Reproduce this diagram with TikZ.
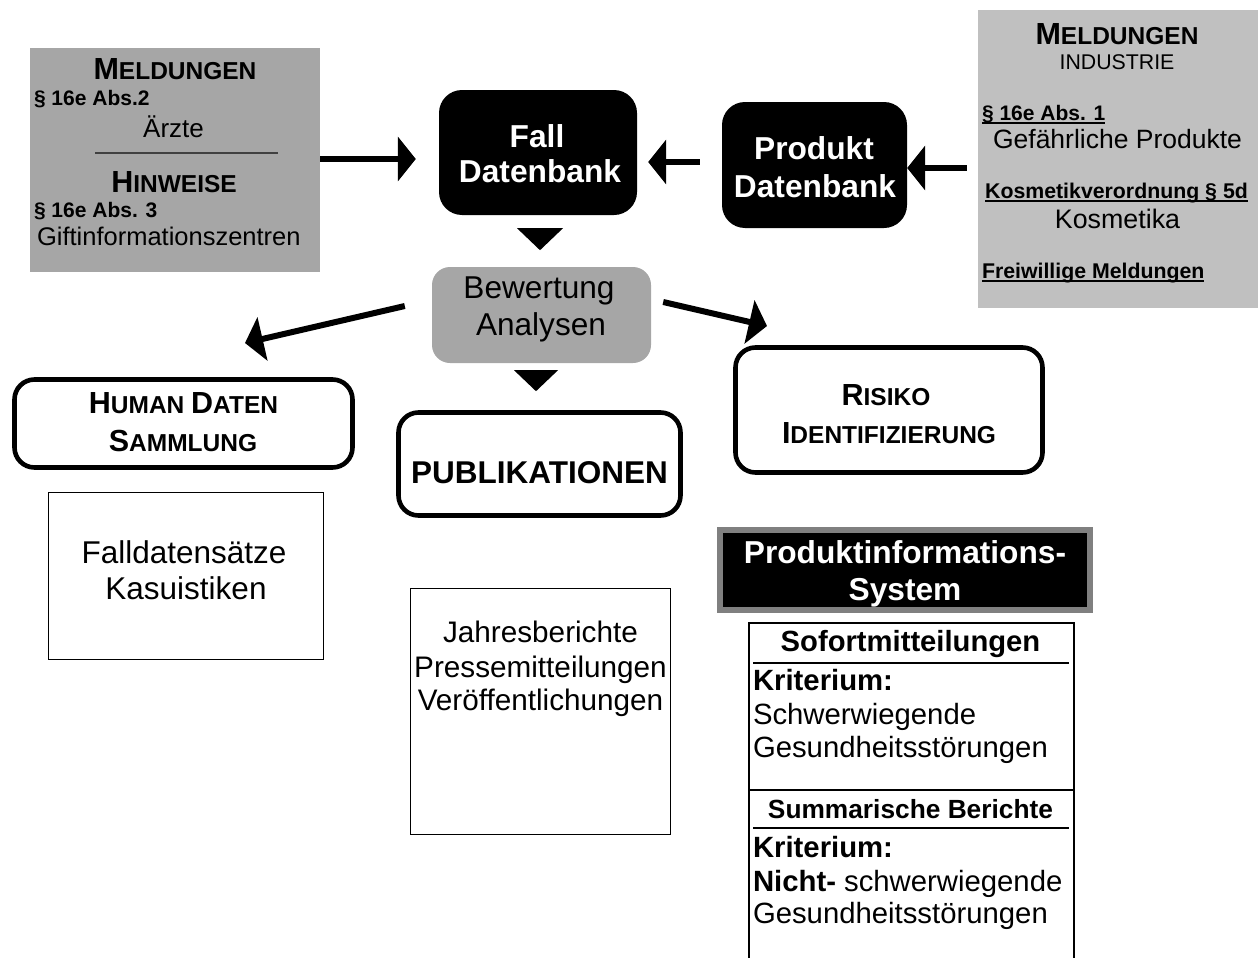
\documentclass[tikz,border=0pt]{standalone}
\usepackage{fontspec}
\setmainfont{Liberation Sans}
\usetikzlibrary{arrows.meta}
\definecolor{greyA}{HTML}{A6A6A6}
\definecolor{greyB}{HTML}{C0C0C0}
\definecolor{greyC}{HTML}{808080}
\newcommand\fsz[1]{\fontsize{#1}{#1}\selectfont}
\newcommand\smc[2]{{\fsz{30.5}#1}{\fsz{24.5}#2}}
\newcommand\ulin[1]{\setbox0\hbox{#1}\rlap{\rule[-3.5pt]{\wd0}{1.8pt}}\box0}
\begin{document}
\begin{tikzpicture}[x=1pt,y=-1pt,
  txt/.style={inner sep=0pt, outer sep=0pt, anchor=base, text=black},
  txtl/.style={txt, anchor=base west},
  wtxt/.style={txt, text=white, font=\fsz{31.7}\bfseries},
  gboxA/.style={rectangle, fill=greyA, draw=none, inner sep=0pt},
  gboxB/.style={rectangle, fill=greyB, draw=none, inner sep=0pt},
  dbbox/.style={rectangle, fill=black, draw=none, rounded corners=23pt, inner sep=0pt},
  evalbox/.style={rectangle, fill=greyA, draw=none, rounded corners=18pt, inner sep=0pt},
  outbox/.style={rectangle, fill=white, draw=black, line width=4.6pt, rounded corners=20pt, inner sep=0pt},
  thinbox/.style={rectangle, fill=white, draw=black, line width=1.3pt, inner sep=0pt},
  arr/.style={line width=6pt, -{Triangle[width=44pt,length=18pt]}},
  sepline/.style={line width=2pt, draw=black}
]
\useasboundingbox (0,0) rectangle (1258,958);

% left grey box
\node[gboxA, minimum width=290pt, minimum height=224pt] (lb) at (175,160) {};
\node[txt, font=\bfseries] (lb1) at (175,79) {\smc{M}{ELDUNGEN}};
\node[txtl, font=\fsz{21}\bfseries] (lb2) at (34,105) {§ 16e Abs.2};
\node[txt, font=\fsz{26}] (lb3) at (173.5,137) {Ärzte};
\draw[line width=1.2pt, draw=black!75] (95,153) -- (278,153);
\node[txt, font=\bfseries] (lb4) at (174,192) {\smc{H}{INWEISE}};
\node[txtl, font=\fsz{21}\bfseries] (lb5) at (34,217) {§ 16e Abs. 3};
\node[txtl, font=\fsz{25.5}] (lb6) at (37,245) {Giftinformationszentren};

% right grey box
\node[gboxB, minimum width=280pt, minimum height=298pt] (rb) at (1118,159) {};
\node[txt, font=\bfseries] (rb1) at (1117,45) {\smc{M}{ELDUNGEN}};
\node[txt, font=\fsz{21.3}] (rb2) at (1117,70) {INDUSTRIE};
\node[txtl, font=\fsz{21}\bfseries] (rb3) at (982,120) {\ulin{§ 16e Abs. 1}};
\node[txt, font=\fsz{26.5}] (rb4) at (1117.5,148) {Gefährliche Produkte};
\node[txt, font=\fsz{21.3}\bfseries] (rb5) at (1116.5,198) {\ulin{Kosmetikverordnung § 5d}};
\node[txt, font=\fsz{26.8}] (rb6) at (1117.5,228) {Kosmetika};
\node[txtl, font=\fsz{21.3}\bfseries] (rb7) at (982,278) {\ulin{Freiwillige Meldungen}};

% databases
\node[dbbox, minimum width=198pt, minimum height=125pt] (fall) at (538,152.5) {};
\node[wtxt] (fall1) at (537,147) {Fall};
\node[wtxt] (fall2) at (540,182) {Datenbank};
\node[dbbox, minimum width=185pt, minimum height=126pt] (prod) at (814.5,165) {};
\node[wtxt] (prod1) at (814,159) {Produkt};
\node[wtxt] (prod2) at (815,197) {Datenbank};

% evaluation
\node[evalbox, minimum width=219pt, minimum height=96pt] (bew) at (541.5,315) {};
\node[txt, font=\fsz{31.6}] (bew1) at (539,298) {Bewertung};
\node[txt, font=\fsz{31.6}] (bew2) at (541,335) {Analysen};

% outputs
\node[outbox, minimum width=338pt, minimum height=88pt] (hum) at (183.5,423.5) {};
\node[txt, font=\bfseries] (hum1) at (183.5,413) {\smc{H}{UMAN}{\fsz{24.5}\ }\smc{D}{ATEN}};
\node[txt, font=\bfseries] (hum2) at (183,451) {\smc{S}{AMMLUNG}};
\node[outbox, minimum width=282pt, minimum height=103pt] (pub) at (539.5,464) {};
\node[txt, font=\fsz{31.5}\bfseries] (pub1) at (539.5,483) {PUBLIKATIONEN};
\node[outbox, minimum width=307pt, minimum height=125pt] (ris) at (889,410) {};
\node[txt, font=\bfseries] (ris1) at (886,405) {\smc{R}{ISIKO}};
\node[txt, font=\bfseries] (ris2) at (889,443) {\smc{I}{DENTIFIZIERUNG}};

% detail boxes
\node[thinbox, minimum width=275pt, minimum height=167pt] (fds) at (186,576) {};
\node[txt, font=\fsz{31.5}] (fds1) at (184,563) {Falldatensätze};
\node[txt, font=\fsz{31.5}] (fds2) at (186,599) {Kasuistiken};
\node[thinbox, minimum width=260pt, minimum height=246pt] (jah) at (540.5,711.5) {};
\node[txt, font=\fsz{29.7}] (jah1) at (540.5,642) {Jahresberichte};
\node[txt, font=\fsz{29.7}] (jah2) at (540.5,677) {Pressemitteilungen};
\node[txt, font=\fsz{29.7}] (jah3) at (540.5,710) {Veröffentlichungen};

% product information system
\node[rectangle, fill=black, draw=greyC, line width=6pt, minimum width=370pt, minimum height=80pt, inner sep=0pt] (pis) at (905,570) {};
\node[wtxt] (pis1) at (905,563) {Produktinformations-};
\node[wtxt] (pis2) at (905,600) {System};

\node[rectangle, draw=black, line width=2pt, fill=white, minimum width=325pt, minimum height=360pt, anchor=north west, inner sep=0pt] (tab) at (748,622) {};
\node[txt, font=\fsz{29.2}\bfseries] (tab1) at (910.5,651) {Sofortmitteilungen};
\draw[sepline] (753,663) -- (1069,663);
\node[txtl, font=\fsz{29.3}\bfseries] (tab2) at (753,690) {Kriterium:};
\node[txtl, font=\fsz{29.3}] (tab3) at (753,724) {Schwerwiegende};
\node[txtl, font=\fsz{29.3}] (tab4) at (753,757) {Gesundheitsstörungen};
\draw[line width=2.6pt] (748,790) -- (1073,790);
\node[txt, font=\fsz{26.3}\bfseries] (tab5) at (910.5,818) {Summarische Berichte};
\draw[sepline] (753,828) -- (1069,828);
\node[txtl, font=\fsz{29.3}\bfseries] (tab6) at (753,857) {Kriterium:};
\node[txtl, font=\fsz{29.3}] (tab7) at (753,891) {\textbf{Nicht-} schwerwiegende};
\node[txtl, font=\fsz{29.3}] (tab8) at (753,923) {Gesundheitsstörungen};

% arrows
\draw[arr, shorten >=23pt] ([yshift=1pt]lb.east) -- ([yshift=1pt]lb.east -| fall.west);
\draw[arr, shorten <=22pt, shorten >=11pt] ([yshift=3pt]prod.west) -- ([yshift=3pt]prod.west -| fall.east);
\draw[arr, shorten <=11pt] ([yshift=-3pt]prod.east -| rb.west) -- ([yshift=-3pt]prod.east);
\coordinate (humtip) at (245,343);
\coordinate (ristip) at (767,326);
\draw[arr] ([shift={(-27pt,9pt)}]bew.west) -- (humtip);
\draw[arr] ([shift={(12pt,13pt)}]bew.east) -- (ristip);
\fill ([shift={(-21pt,-13pt)}]fall.south) -- ([shift={(25pt,-13pt)}]fall.south) -- ([shift={(2pt,-35pt)}]fall.south) -- cycle;
\fill ([shift={(-27.5pt,-7pt)}]bew.south) -- ([shift={(16.5pt,-7pt)}]bew.south) -- ([shift={(-5.5pt,-28pt)}]bew.south) -- cycle;
\end{tikzpicture}
\end{document}
